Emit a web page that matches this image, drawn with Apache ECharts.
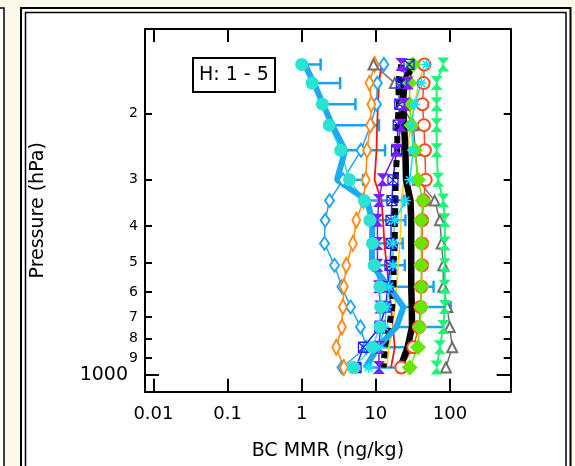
<!DOCTYPE html>
<html>
<head>
<meta charset="utf-8">
<script src="https://cdn.jsdelivr.net/npm/echarts@6/dist/echarts.min.js"></script>
<style>
html, body { margin: 0; padding: 0; background: #fdf9ea; }
#chart { width: 575px; height: 466px; }
</style>
</head>
<body>
<div id="chart"></div>
<script>
// pressure levels (hPa)
var levels = [148, 166, 189, 215, 251, 301, 342, 386, 445, 509, 581, 658, 744, 843, 955];

// BC MMR profiles (ng/kg), one value per level
var meanBC     = [1.1, 1.46, 1.94, 2.58, 3.85, 2.99, 7.6, 9.0, 8.85, 8.85, 15, 23.5, 19, 10.7, 7.2];
var errHi      = [1.8, 3.3, 5.3, 11, 13.3, 6.7, 24, 25, 23, 24.5, 60, 102, 81, 28.7, 20];
var turquoise  = [1.0, 1.38, 1.9, 2.35, 3.35, 4.4, 7.0, 8.3, 9.0, 9.5, 11.3, 11.6, 11.3, 9, 5.0];
var lightBlue  = [12.8, 10.5, 10.2, 8.5, 6.3, 3.6, 2.37, 2.07, 2.03, 2.77, 3.48, 4.56, 6.2, 7.4, 3.5];
var orange     = [9.6, 8.2, 8.7, 8.4, 7.6, 7.3, 6.8, 5.45, 4.9, 3.98, 3.7, 3.59, 3.48, 2.92, 3.7];
var red        = [11.9, 11.0, 10.7, 10.4, 10.2, 9.6, 11.9, 12.5, 13, 14, 15, 16, 17, 18, 16];
var gray       = [9.3, 18, 22, 32, 34, 37, 62, 73, 77, 81, 81, 92, 99, 107, 88];
var springGrn  = [81, 66, 66, 66, 66, 69, 81, 85, 85, 85, 85, 85, 81, 73, 66];
var limeDiam   = [31.7, 28.5, 28.5, 30, 33.5, 37, 43, 41, 41, 41, 41, 41, 39, 37, 28.6];
var redCircle  = [45, 44, 42.5, 44.5, 45.8, 47, 44, 42, 42, 42, 41, 40, 38, 32, 22];
var darkBlue   = [28, 22, 21, 20, 19, 17, 16.5, 16, 16, 15.5, 14.5, 13.5, 11.3, 6.8, 5.4];
var purple     = [22, 27, 24, 22, 19, 12.3, 11, 10.5, 10.5, 10.5, 11, 11.5, 11.5, 11, 11];
var yellow     = [45, 38, 33, 30, 26, 24, 22, 22, 21, 20, 19, 18, 17, 15, 14];
var cyan       = [48, 41, 33.5, 30, 31.8, 28.7, 25, 18, 17, 17, 15, 14, 13, 11, 8];
var blackDash  = [22, 20, 20.5, 19.5, 19.4, 18.4, 18.4, 18, 18, 17.3, 17.3, 16.6, 15.1, 13.2, 12.7];
var blackSolid = [31.7, 23.8, 23.3, 24, 25, 25.5, 29.3, 30, 30, 30, 30, 30.5, 30.7, 26.8, 21.3];

// tick labels
var xTicks = [0.01, 0.1, 1, 10, 100];
var pTicks = [200, 300, 400, 500, 600, 700, 800, 900];
var pMajor = [1000];

var FONT = 'DejaVu Sans';
var hourglass = 'path://M0,0L10,0L5,5ZM5,5L10,10L0,10Z';
var boxX = 'path://M0,0H10V10H0ZM0,0L10,10M10,0L0,10';
var asterisk = 'path://M5,0V10M0,5H10M1.5,1.5L8.5,8.5M8.5,1.5L1.5,8.5';

function prof(vals) {
    return vals.map(function (v, i) { return [v, levels[i]]; });
}

function profile(vals, color, width, symbol, size, itemStyle, lineType) {
    return {
        type: 'line',
        data: prof(vals),
        symbol: symbol || 'none',
        symbolSize: size || 0,
        showSymbol: !!symbol,
        symbolKeepAspect: false,
        silent: true,
        lineStyle: { color: color, width: width, type: lineType || 'solid', cap: 'butt' },
        itemStyle: itemStyle || { color: color }
    };
}

var chart = echarts.init(document.getElementById('chart'));

var xBase = {
    type: 'log', min: 0.0077, max: 658,
    axisLine: { show: true, onZero: false, lineStyle: { color: '#000', width: 2 } },
    axisTick: { show: true, inside: true, length: 13, customValues: xTicks, lineStyle: { color: '#000', width: 2 } },
    splitLine: { show: false }
};

var yBase = {
    type: 'log', min: 119, max: 1108, inverse: true,
    splitLine: { show: false }
};

var option = {
    animation: false,
    backgroundColor: '#fdf9ea',
    graphic: [
        { type: 'rect', z: -10, shape: { x: -50, y: 8, width: 54, height: 520 }, style: { fill: '#fff', stroke: '#000', lineWidth: 1.5 } },
        { type: 'rect', z: -10, shape: { x: 21, y: 8, width: 549.5, height: 520 }, style: { fill: '#fff', stroke: '#000', lineWidth: 2 } },
        { type: 'rect', z: -9, shape: { x: 25.5, y: 12.5, width: 540.5, height: 520 }, style: { fill: '#fff', stroke: '#000', lineWidth: 1.5 } }
    ],
    title: {
        text: 'H: 1 - 5', left: 193, top: 58,
        padding: [6, 6, 6, 6],
        borderColor: '#000', borderWidth: 2, backgroundColor: '#fff',
        textStyle: { fontFamily: FONT, fontSize: 19, lineHeight: 22, fontWeight: 'normal', color: '#000' }
    },
    grid: { left: 145, right: 64.3, top: 29, bottom: 74.3 },
    xAxis: [
        Object.assign({}, xBase, {
            position: 'bottom',
            axisLabel: { customValues: xTicks, fontFamily: FONT, fontSize: 18, margin: 14, color: '#000',
                formatter: function (v) { return String(v); } },
            name: 'BC MMR (ng/kg)', nameLocation: 'middle', nameGap: 50,
            nameTextStyle: { fontFamily: FONT, fontSize: 19, color: '#000' }
        }),
        Object.assign({}, xBase, { position: 'top', axisLabel: { show: false } })
    ],
    yAxis: [
        Object.assign({}, yBase, {
            position: 'left',
            axisLine: { show: true, onZero: false, lineStyle: { color: '#000', width: 2 } },
            axisTick: { show: true, inside: true, length: 7, customValues: pTicks, lineStyle: { color: '#000', width: 2 } },
            axisLabel: { customValues: pTicks, fontFamily: FONT, fontSize: 14, margin: 7, color: '#000',
                formatter: function (v) { return String(Math.round(v / 100)); } },
            name: 'Pressure (hPa)', nameLocation: 'middle', nameGap: 97,
            nameTextStyle: { fontFamily: FONT, fontSize: 19, color: '#000' }
        }),
        Object.assign({}, yBase, {
            position: 'left',
            axisLine: { show: false },
            axisTick: { show: true, inside: true, length: 14, customValues: pMajor, lineStyle: { color: '#000', width: 2 } },
            axisLabel: { customValues: pMajor, fontFamily: FONT, fontSize: 19, margin: 17, color: '#000',
                formatter: function (v) { return String(v); } }
        }),
        Object.assign({}, yBase, {
            position: 'right',
            axisLine: { show: true, onZero: false, lineStyle: { color: '#000', width: 2 } },
            axisTick: { show: true, inside: true, length: 7, customValues: pTicks, lineStyle: { color: '#000', width: 2 } },
            axisLabel: { show: false }
        }),
        Object.assign({}, yBase, {
            position: 'right',
            axisLine: { show: false },
            axisTick: { show: true, inside: true, length: 14, customValues: pMajor, lineStyle: { color: '#000', width: 2 } },
            axisLabel: { show: false }
        })
    ],
    series: [
        profile(lightBlue, '#22a6f2', 1.5, 'emptyDiamond', [9, 13]),
        profile(orange, '#ff8a14', 1.5, 'emptyDiamond', [8, 15]),
        profile(red, '#ff1414', 1.8),
        profile(gray, '#707070', 1.5, 'emptyTriangle', 10),
        profile(springGrn, '#1ef578', 2, hourglass, [12, 14]),
        profile(redCircle, '#ff4a1e', 1.5, 'emptyCircle', 12),
        profile(limeDiam, '#66e600', 1.5, 'diamond', 16),
        profile(darkBlue, '#2020ff', 1.5, boxX, 10, { color: 'rgba(255,255,255,0)', borderColor: '#2020ff', borderWidth: 1.3 }),
        profile(purple, '#7c1cff', 1.5, hourglass, [12, 13]),
        profile(yellow, '#ffc800', 1.5),
        profile(cyan, '#12e4ff', 1.5, asterisk, 11, { color: 'rgba(255,255,255,0)', borderColor: '#12e4ff', borderWidth: 1.5 }),
        profile(turquoise, '#2ae3d3', 1.5, 'circle', 13),
        profile(blackDash, '#000', 6, null, 0, null, [7, 5]),
        profile(blackSolid, '#000', 6.5),
        profile(meanBC, '#1caaf0', 6),
        {
            type: 'custom',
            silent: true,
            data: levels.map(function (p, i) { return [meanBC[i], p, errHi[i]]; }),
            encode: { x: [0, 2], y: 1 },
            renderItem: function (params, api) {
                var a = api.coord([api.value(0), api.value(1)]);
                var b = api.coord([api.value(2), api.value(1)]);
                var st = { stroke: '#1aa2ee', lineWidth: 2.5 };
                return {
                    type: 'group',
                    children: [
                        { type: 'line', shape: { x1: a[0], y1: a[1], x2: b[0], y2: b[1] }, style: st },
                        { type: 'line', shape: { x1: b[0], y1: b[1] - 6, x2: b[0], y2: b[1] + 6 }, style: st }
                    ]
                };
            }
        }
    ]
};

chart.setOption(option);
</script>
</body>
</html>
